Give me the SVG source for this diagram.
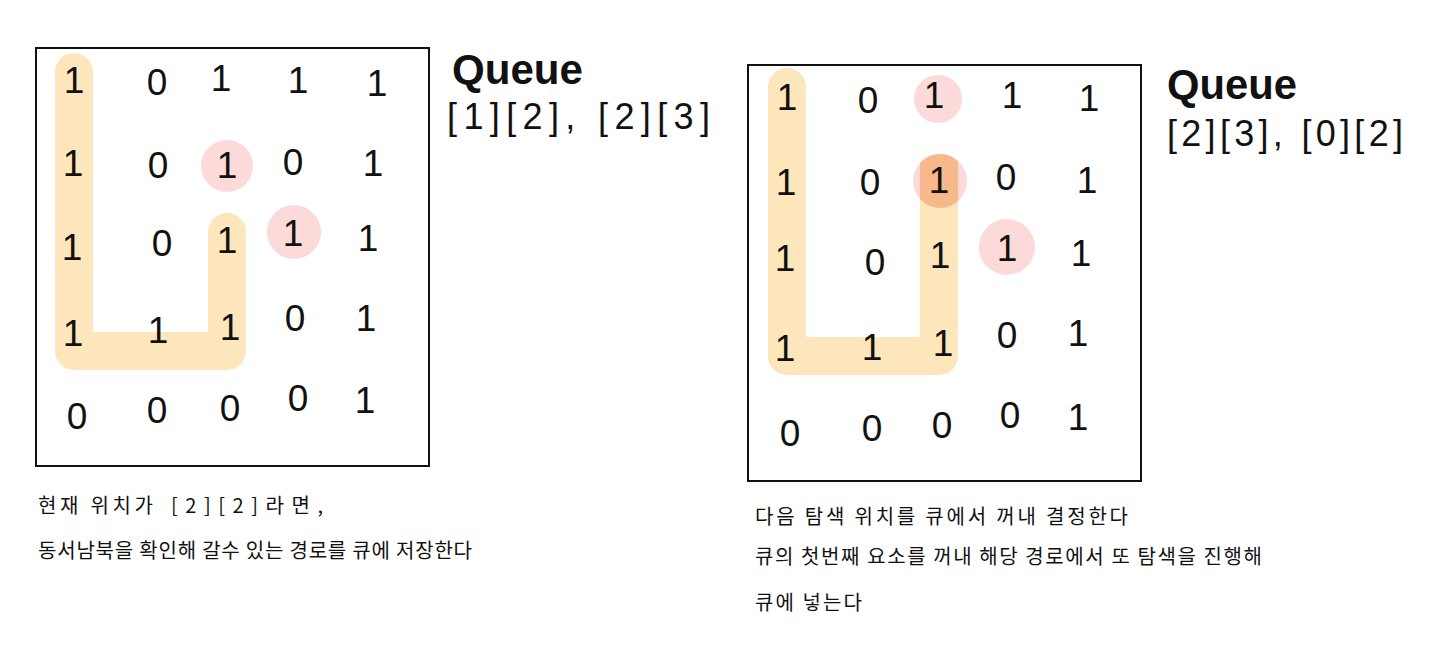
<svg xmlns="http://www.w3.org/2000/svg" width="1440" height="665" viewBox="0 0 1440 665">
<style>
.box{fill:none;stroke:#111;stroke-width:2}
.d{font-family:"Liberation Sans",Arial,sans-serif;font-size:37px;fill:#111;text-anchor:middle;dominant-baseline:central}
.path{fill:none;stroke:#FDE5BC;stroke-width:38;stroke-linecap:round;stroke-linejoin:round}
.hit{fill:#FCDADA}
.qt{font-family:"Liberation Sans",Arial,sans-serif;font-weight:bold;font-size:42px;fill:#111}
.qv{font-family:"Liberation Sans",Arial,sans-serif;font-size:36px;fill:#111}
.cap{font-family:"Noto Sans CJK KR","Noto Sans",sans-serif;font-size:20px;fill:#111}
</style>
<defs>
<clipPath id="c2"><circle cx="940" cy="181" r="27"/></clipPath>
</defs>
<rect width="1440" height="665" fill="#fff"/>

<g id="highlights">
<path class="path" d="M74 72 V351 H227 V232"/>
<circle class="hit" cx="227" cy="166" r="26"/>
<circle class="hit" cx="294" cy="232" r="27"/>
<path class="path" d="M787 87 V356 H939 V182"/>
<circle class="hit" cx="938" cy="99" r="24"/>
<circle class="hit" cx="940" cy="181" r="27"/>
<rect x="920" y="150" width="38" height="70" fill="#F7B88C" clip-path="url(#c2)"/>
<circle class="hit" cx="1007" cy="247" r="28"/>
</g>

<g id="left-grid">
<rect class="box" x="36" y="48" width="393" height="418"/>
<text class="d" x="74" y="80">1</text><text class="d" x="157" y="82">0</text><text class="d" x="221" y="78">1</text><text class="d" x="298" y="80">1</text><text class="d" x="377" y="83">1</text>
<text class="d" x="73" y="163">1</text><text class="d" x="158" y="165">0</text><text class="d" x="227" y="165">1</text><text class="d" x="293" y="162">0</text><text class="d" x="373" y="163">1</text>
<text class="d" x="72" y="247">1</text><text class="d" x="162" y="243">0</text><text class="d" x="227" y="240">1</text><text class="d" x="293" y="233">1</text><text class="d" x="368" y="238">1</text>
<text class="d" x="73" y="333">1</text><text class="d" x="158" y="330">1</text><text class="d" x="230" y="327">1</text><text class="d" x="295" y="318">0</text><text class="d" x="366" y="318">1</text>
<text class="d" x="77" y="416">0</text><text class="d" x="157" y="410">0</text><text class="d" x="230" y="408">0</text><text class="d" x="298" y="398">0</text><text class="d" x="365" y="400">1</text>
</g>

<g id="left-queue">
<text class="qt" x="452" y="84" textLength="131" lengthAdjust="spacingAndGlyphs">Queue</text>
<text class="qv" x="447" y="129" textLength="263" lengthAdjust="spacing">[1][2], [2][3]</text>
</g>

<g id="left-caption">
<text class="cap" x="38" y="513" textLength="115" lengthAdjust="spacing">현재 위치가</text>
<text class="cap" x="171" y="513" textLength="152" lengthAdjust="spacing">[2][2]라면,</text>
<text class="cap" x="38" y="558" textLength="434" lengthAdjust="spacing">동서남북을 확인해 갈수 있는 경로를 큐에 저장한다</text>
</g>

<g id="right-grid">
<rect class="box" x="748" y="65" width="393" height="416"/>
<text class="d" x="787" y="97">1</text><text class="d" x="868" y="100">0</text><text class="d" x="934" y="95">1</text><text class="d" x="1012" y="95">1</text><text class="d" x="1089" y="98">1</text>
<text class="d" x="786" y="182">1</text><text class="d" x="870" y="182">0</text><text class="d" x="939" y="180">1</text><text class="d" x="1006" y="177">0</text><text class="d" x="1087" y="180">1</text>
<text class="d" x="785" y="258">1</text><text class="d" x="875" y="262">0</text><text class="d" x="940" y="255">1</text><text class="d" x="1007" y="248">1</text><text class="d" x="1081" y="253">1</text>
<text class="d" x="785" y="348">1</text><text class="d" x="872" y="347">1</text><text class="d" x="943" y="343">1</text><text class="d" x="1007" y="335">0</text><text class="d" x="1078" y="333">1</text>
<text class="d" x="790" y="433">0</text><text class="d" x="872" y="428">0</text><text class="d" x="942" y="425">0</text><text class="d" x="1010" y="415">0</text><text class="d" x="1078" y="417">1</text>
</g>

<g id="right-queue">
<text class="qt" x="1167" y="99" textLength="130" lengthAdjust="spacingAndGlyphs">Queue</text>
<text class="qv" x="1167" y="146" textLength="236" lengthAdjust="spacing">[2][3], [0][2]</text>
</g>

<g id="right-caption">
<text class="cap" x="755" y="524" textLength="373" lengthAdjust="spacing">다음 탐색 위치를 큐에서 꺼내 결정한다</text>
<text class="cap" x="755" y="564" textLength="507" lengthAdjust="spacing">큐의 첫번째 요소를 꺼내 해당 경로에서 또 탐색을 진행해</text>
<text class="cap" x="755" y="610" textLength="107" lengthAdjust="spacing">큐에 넣는다</text>
</g>
</svg>
